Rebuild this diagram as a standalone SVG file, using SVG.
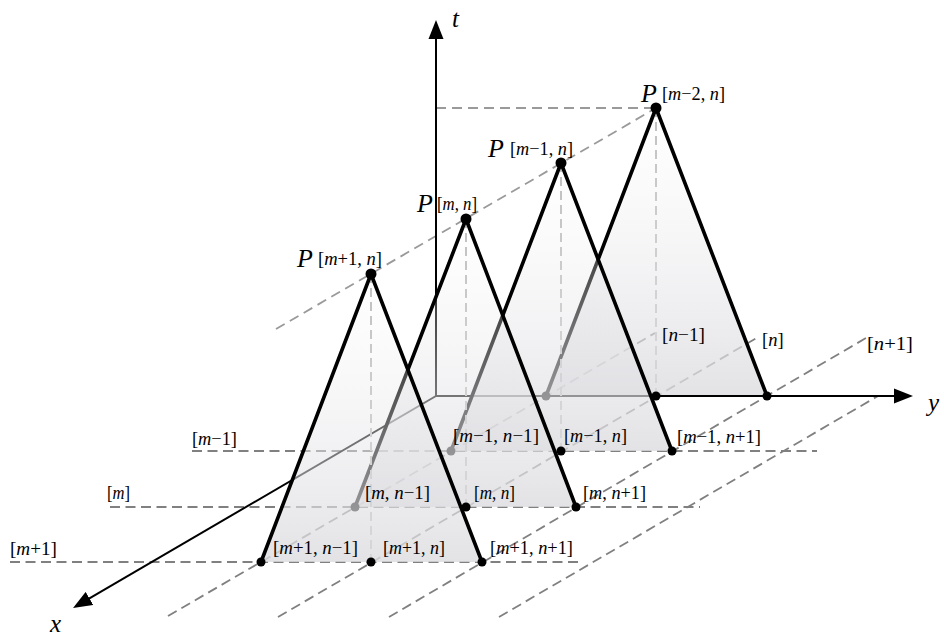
<svg xmlns="http://www.w3.org/2000/svg" width="944" height="637" viewBox="0 0 944 637">
<defs>
<linearGradient id="fillg" x1="0" y1="0" x2="0" y2="1">
<stop offset="0" stop-color="#f2f2f4" stop-opacity="0.05"/>
<stop offset="1" stop-color="#dcdce0" stop-opacity="0.8"/>
</linearGradient>
<marker id="ah" markerUnits="userSpaceOnUse" markerWidth="20" markerHeight="16" viewBox="0 -8 20 16" refX="4" refY="0" orient="auto">
<path d="M0,-7.5 L19,0 L0,7.5 z" fill="#000"/>
</marker>
<style>
.g{stroke:#808080;stroke-width:1.8;stroke-dasharray:10 5.5;fill:none}
.pk{stroke:#9a9a9a;stroke-width:1.8;stroke-dasharray:10 6;fill:none}
.v{stroke:#bdbdbd;stroke-width:2;stroke-dasharray:9 5;fill:none}
.tf{fill:url(#fillg);stroke:none}
.ts{fill:none;stroke:#000;stroke-width:3.6;stroke-linejoin:round}
.ax{stroke:#000;stroke-width:2;fill:none;marker-end:url(#ah)}
.lb{font-family:"Liberation Serif","DejaVu Serif",serif;font-size:18.5px;fill:#000}
.i{font-style:italic}
.P{font-family:"Liberation Serif","DejaVu Serif",serif;font-size:26px;font-style:italic;fill:#000}
.al{font-family:"Liberation Serif","DejaVu Serif",serif;font-size:25px;font-style:italic;fill:#000}
</style>
</defs>
<rect width="944" height="637" fill="#fff"/>

<g id="grid">
<line class="g" x1="10" y1="562" x2="580" y2="562"/>
<line class="g" x1="110" y1="507" x2="700" y2="507"/>
<line class="g" x1="192" y1="451" x2="817" y2="451"/>
<line class="g" x1="168" y1="616" x2="655" y2="333"/>
<line class="g" x1="278" y1="617" x2="760" y2="336"/>
<line class="g" x1="389" y1="617" x2="866" y2="338"/>
<line class="g" x1="499" y1="617" x2="878" y2="396"/>
<line class="pk" x1="276" y1="329" x2="656" y2="108"/>
<line class="pk" x1="436" y1="108" x2="656" y2="108"/>
</g>

<g id="tri-m-minus-2">
<line class="v" x1="656" y1="108" x2="656" y2="396"/>
<polygon class="tf" points="546,396 656,108 767,396"/>
<polyline class="ts" points="546,396 656,108 767,396"/>
<circle cx="546" cy="396" r="4.5"/>
<circle cx="656" cy="396" r="4.5"/>
<circle cx="767" cy="396" r="4.5"/>
<circle cx="656" cy="108" r="5.5"/>
</g>

<g id="axes">
<line class="ax" x1="436" y1="396" x2="436" y2="35"/>
<line class="ax" x1="436" y1="396" x2="898" y2="396"/>
<line class="ax" x1="436" y1="396" x2="86" y2="600.4"/>
</g>

<g id="tri-m-minus-1">
<line class="v" x1="561" y1="163" x2="561" y2="451"/>
<polygon class="tf" points="451,451 561,163 672,451"/>
<polyline class="ts" points="451,451 561,163 672,451"/>
<circle cx="451" cy="451" r="4.5"/>
<circle cx="561" cy="451" r="4.5"/>
<circle cx="672" cy="451" r="4.5"/>
<circle cx="561" cy="163" r="5.5"/>
</g>

<g id="tri-m">
<line class="v" x1="466" y1="219" x2="466" y2="507"/>
<polygon class="tf" points="355,507 466,219 576,507"/>
<polyline class="ts" points="355,507 466,219 576,507"/>
<circle cx="355" cy="507" r="4.5"/>
<circle cx="466" cy="507" r="4.5"/>
<circle cx="576" cy="507" r="4.5"/>
<circle cx="466" cy="219" r="5.5"/>
</g>

<g id="tri-m-plus-1">
<line class="v" x1="371" y1="274" x2="371" y2="562"/>
<polygon class="tf" points="261,562 371,274 482,562"/>
<polyline class="ts" points="261,562 371,274 482,562"/>
<circle cx="261" cy="562" r="4.5"/>
<circle cx="371" cy="562" r="4.5"/>
<circle cx="482" cy="562" r="4.5"/>
<circle cx="371" cy="274" r="5.5"/>
</g>

<g id="labels">
<text class="al" x="452" y="27">t</text>
<text class="al" x="928" y="411">y</text>
<text class="al" x="50" y="632">x</text>

<text class="P" x="297" y="267">P</text>
<text class="lb" x="318" y="265" textLength="64" lengthAdjust="spacingAndGlyphs">[<tspan class="i">m</tspan>+1, <tspan class="i">n</tspan>]</text>
<text class="P" x="417" y="212">P</text>
<text class="lb" x="437" y="210" textLength="40" lengthAdjust="spacingAndGlyphs">[<tspan class="i">m</tspan>, <tspan class="i">n</tspan>]</text>
<text class="P" x="488" y="157">P</text>
<text class="lb" x="510" y="155" textLength="63" lengthAdjust="spacingAndGlyphs">[<tspan class="i">m</tspan>−1, <tspan class="i">n</tspan>]</text>
<text class="P" x="641" y="102">P</text>
<text class="lb" x="662" y="100" textLength="63" lengthAdjust="spacingAndGlyphs">[<tspan class="i">m</tspan>−2, <tspan class="i">n</tspan>]</text>

<text class="lb" x="10" y="555" textLength="47" lengthAdjust="spacingAndGlyphs">[<tspan class="i">m</tspan>+1]</text>
<text class="lb" x="107" y="499" textLength="23" lengthAdjust="spacingAndGlyphs">[<tspan class="i">m</tspan>]</text>
<text class="lb" x="192" y="445" textLength="45" lengthAdjust="spacingAndGlyphs">[<tspan class="i">m</tspan>−1]</text>

<text class="lb" x="273" y="554" textLength="85" lengthAdjust="spacingAndGlyphs">[<tspan class="i">m</tspan>+1, <tspan class="i">n</tspan>−1]</text>
<text class="lb" x="383" y="554" textLength="62" lengthAdjust="spacingAndGlyphs">[<tspan class="i">m</tspan>+1, <tspan class="i">n</tspan>]</text>
<text class="lb" x="490" y="554" textLength="83" lengthAdjust="spacingAndGlyphs">[<tspan class="i">m</tspan>+1, <tspan class="i">n</tspan>+1]</text>

<text class="lb" x="365" y="499" textLength="65" lengthAdjust="spacingAndGlyphs">[<tspan class="i">m</tspan>, <tspan class="i">n</tspan>−1]</text>
<text class="lb" x="474" y="499" textLength="41" lengthAdjust="spacingAndGlyphs">[<tspan class="i">m</tspan>, <tspan class="i">n</tspan>]</text>
<text class="lb" x="583" y="499" textLength="63" lengthAdjust="spacingAndGlyphs">[<tspan class="i">m</tspan>, <tspan class="i">n</tspan>+1]</text>

<text class="lb" x="453" y="442" textLength="86" lengthAdjust="spacingAndGlyphs">[<tspan class="i">m</tspan>−1, <tspan class="i">n</tspan>−1]</text>
<text class="lb" x="564" y="442" textLength="63" lengthAdjust="spacingAndGlyphs">[<tspan class="i">m</tspan>−1, <tspan class="i">n</tspan>]</text>
<text class="lb" x="677" y="443" textLength="84" lengthAdjust="spacingAndGlyphs">[<tspan class="i">m</tspan>−1, <tspan class="i">n</tspan>+1]</text>

<text class="lb" x="662" y="341" textLength="43" lengthAdjust="spacingAndGlyphs">[<tspan class="i">n</tspan>−1]</text>
<text class="lb" x="762" y="346">[<tspan class="i">n</tspan>]</text>
<text class="lb" x="867" y="350" textLength="46" lengthAdjust="spacingAndGlyphs">[<tspan class="i">n</tspan>+1]</text>
</g>
</svg>
